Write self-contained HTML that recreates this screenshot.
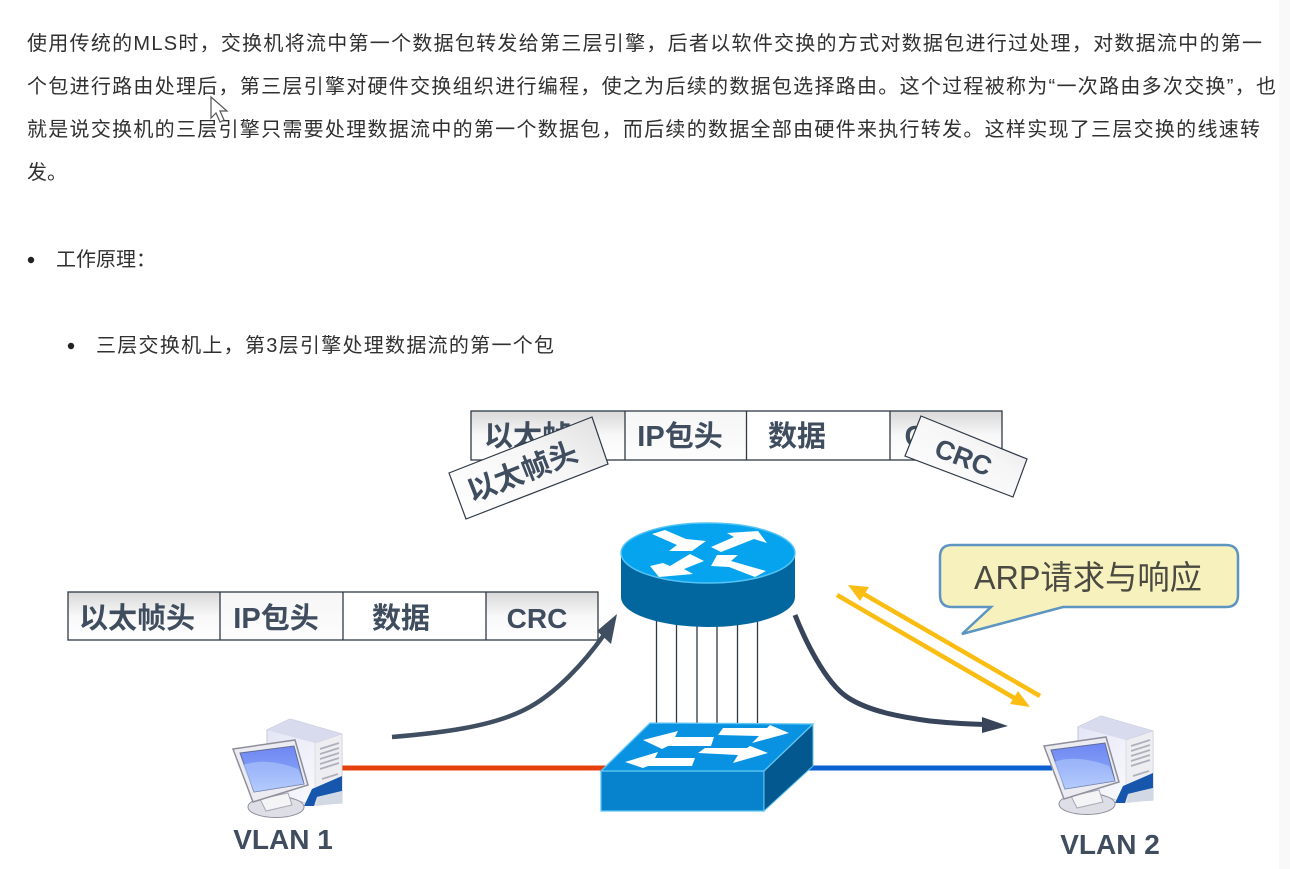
<!DOCTYPE html>
<html><head><meta charset="utf-8">
<style>
html,body{margin:0;padding:0;background:#fff;width:1290px;height:869px;overflow:hidden}
svg{display:block;filter:blur(.35px)}
.t{font-family:"Liberation Sans","Noto Sans CJK SC",sans-serif;font-size:20px;fill:#303030}
.b{font-family:"Liberation Sans","Noto Sans CJK SC",sans-serif;font-size:29px;font-weight:bold;fill:#3f4d5f;text-anchor:middle}
</style></head><body>
<svg width="1290" height="869" viewBox="0 0 1290 869" xmlns="http://www.w3.org/2000/svg">
<defs>
<linearGradient id="cell" x1="0" y1="0" x2="0" y2="1"><stop offset="0" stop-color="#d8d8d8"/><stop offset=".5" stop-color="#f8f8f8"/><stop offset="1" stop-color="#ffffff"/></linearGradient>
<linearGradient id="cell2" x1="0" y1="0" x2="0" y2="1"><stop offset="0" stop-color="#f6f6f6"/><stop offset="1" stop-color="#fdfdfd"/></linearGradient>
<linearGradient id="rot" x1="0" y1="1" x2="1" y2="0"><stop offset="0" stop-color="#ffffff"/><stop offset=".6" stop-color="#f6f6f6"/><stop offset="1" stop-color="#dedede"/></linearGradient>
<linearGradient id="scr" x1="0" y1="0" x2="0" y2="1"><stop offset="0" stop-color="#6f86f2"/><stop offset=".5" stop-color="#7f9cf6"/><stop offset="1" stop-color="#cfe2ff"/></linearGradient>
<linearGradient id="tower" x1="0" y1="0" x2="1" y2="1"><stop offset="0" stop-color="#e2e4f5"/><stop offset="1" stop-color="#ffffff"/></linearGradient>
<g id="pc">
<polygon points="31,11 54,0 106,15 106,84 74,86 31,70" fill="url(#tower)" stroke="#c4c7d6"/>
<polygon points="31,11 54,0 106,15 79,24" fill="#d8daee"/>
<polygon points="79,24 106,15 106,84 79,86" fill="#eeeef2" stroke="#cfd0da" stroke-width=".6"/>
<path d="M84 30l19-6M84 35l19-6M84 40l19-6M84 45l19-6M84 50l19-6M86 60l16-5" stroke="#aeb1bc" stroke-width="1.800"/>
<polygon points="68,87 76,70 106,57 106,72 81,78 78,87" fill="#1657ad"/>
<polygon points="81,78 106,72 106,84 80,87" fill="#d3d9e4"/>
<ellipse cx="40" cy="88" rx="28" ry="10.500" fill="#dedee6" stroke="#8f8f9c"/>
<polygon points="24,80 52,74 56,86 30,92" fill="#f4f4f6" stroke="#a9a9b5"/>
<polygon points="-3,30 59,21 72,66 17,83" fill="#ebebf1" stroke="#8f8f9c" stroke-width="1.500"/>
<polygon points="4,34 58,27 68,65 18,73" fill="url(#scr)" stroke="#5f6c96"/>
<path d="M7 46Q30 38 62 50L68 65L18 73Z" fill="#a9c2fb" opacity=".7"/>
</g>
</defs>
<rect width="1290" height="869" fill="#ffffff"/>
<rect x="1279" y="0" width="11" height="869" fill="#f9f9f9"/>

<text class="t" x="27" y="50" textLength="1235" lengthAdjust="spacing">使用传统的MLS时，交换机将流中第一个数据包转发给第三层引擎，后者以软件交换的方式对数据包进行过处理，对数据流中的第一</text>
<text class="t" x="27" y="93" textLength="1249" lengthAdjust="spacing">个包进行路由处理后，第三层引擎对硬件交换组织进行编程，使之为后续的数据包选择路由。这个过程被称为“一次路由多次交换”，也</text>
<text class="t" x="27" y="136" textLength="1233" lengthAdjust="spacing">就是说交换机的三层引擎只需要处理数据流中的第一个数据包，而后续的数据全部由硬件来执行转发。这样实现了三层交换的线速转</text>
<text class="t" x="27" y="179">发。</text>
<circle cx="31" cy="260" r="3.2" fill="#222"/>
<text class="t" x="56" y="266">工作原理：</text>
<circle cx="71" cy="346" r="3.2" fill="#222"/>
<text class="t" x="96" y="352" textLength="458" lengthAdjust="spacing">三层交换机上，第3层引擎处理数据流的第一个包</text>

<polygon points="211,97 211,118 216,113 220,122 224,120 220,111 227,111" fill="#fff" stroke="#555" stroke-width="1.2"/>

<!-- top frame -->
<rect x="471" y="411" width="154" height="49" fill="url(#cell)"/>
<rect x="625" y="411" width="121" height="49" fill="url(#cell2)"/>
<rect x="746" y="411" width="144" height="49" fill="#fff"/>
<rect x="890" y="411" width="112" height="49" fill="url(#cell)"/>
<rect x="471" y="411" width="531" height="49" fill="none" stroke="#2f3a46" stroke-width="1.3"/>
<path d="M625 411V460M746.500 411V460M890 411V460" stroke="#2f3a46" stroke-width="1.3"/>
<text class="b" x="542" y="446">以太帧头</text>
<text class="b" x="680" y="446">IP包头</text>
<text class="b" x="797" y="446">数据</text>
<text class="b" x="915" y="446">C</text>

<polygon points="449,473 592,417 608,464 466,519" fill="url(#rot)" stroke="#2f3a46" stroke-width="1.2"/>
<text class="b" transform="translate(526,481) rotate(-21.500)">以太帧头</text>
<polygon points="921,416 1027,459 1013,497 905,456" fill="url(#rot)" stroke="#2f3a46" stroke-width="1.2"/>
<text class="b" transform="translate(960,466) rotate(21)" style="font-size:27px">CRC</text>

<!-- lower frame -->
<rect x="68" y="592" width="152" height="48" fill="url(#cell)"/>
<rect x="220" y="592" width="123" height="48" fill="url(#cell2)"/>
<rect x="343" y="592" width="143" height="48" fill="#fff"/>
<rect x="486" y="592" width="112" height="48" fill="url(#cell)"/>
<rect x="68" y="592" width="530" height="48" fill="none" stroke="#2f3a46" stroke-width="1.3"/>
<path d="M220 592V640M343 592V640M486 592V640" stroke="#2f3a46" stroke-width="1.3"/>
<text class="b" x="137" y="628">以太帧头</text>
<text class="b" x="276" y="628">IP包头</text>
<text class="b" x="401" y="628">数据</text>
<text class="b" x="537" y="628" style="font-size:28px">CRC</text>

<!-- connection lines -->
<path d="M656.500 618V723M676.500 622V723M697 624V723M717 624V723M737.500 622V723M757.500 618V723" stroke="#2f3a44" stroke-width="1.300"/>
<line x1="342" y1="768" x2="606" y2="768" stroke="#e5400c" stroke-width="5"/>
<line x1="806" y1="768" x2="1052" y2="768" stroke="#0b5fd0" stroke-width="5"/>

<!-- router -->
<path d="M621 553V597C621 614 660 627 708 627C756 627 795 614 795 597V553Z" fill="#03679f"/>
<ellipse cx="708" cy="553" rx="87" ry="30" fill="#06a4ee" stroke="#53c3f5" stroke-width="1.500"/>
<polygon points="652,534 665,530 686,539 706,541 692,551 669,551 677,545" fill="#fff"/>
<polygon points="711,547 734,537 727,533 758,531 767,543 754,539 721,552" fill="#fff"/>
<polygon points="690,554 704,561 684,569 693,574 659,577 650,566 663,563 670,566" fill="#fff"/>
<polygon points="717,555 738,555 731,561 766,571 755,577 729,567 711,566" fill="#fff"/>

<!-- switch -->
<polygon points="601,771 764,771 764,811 601,811" fill="#0683cc" stroke="#60c6f2" stroke-width="1.300"/>
<polygon points="764,771 813,724 813,766 764,811" fill="#03598f" stroke="#60c6f2" stroke-width="1"/>
<polygon points="650,723 813,724 764,771 601,771" fill="#0a92e2" stroke="#60c6f2" stroke-width="1.300"/>
<polygon points="643,740 678,731 675,737 714,737 711,746 668,746 662,749" fill="#fff"/>
<polygon points="625,762 658,752 655,758 695,758 692,766 648,766 643,768" fill="#fff"/>
<polygon points="718,735 723,728 767,728 770,725 789,733 752,743 759,736" fill="#fff"/>
<polygon points="698,753 705,748 747,748 750,746 768,753 733,763 738,755" fill="#fff"/>

<!-- curved arrows -->
<path d="M392 737C440 733 490 727 524 710C555 695 585 662 606 632" fill="none" stroke="#3f4e60" stroke-width="4.500"/>
<polygon points="617,614 611,644 597,631" fill="#3f4e60"/>
<path d="M795 615C805 640 825 682 847 697C868 711 900 717 930 721C950 723 965 724 985 724.500" fill="none" stroke="#37445a" stroke-width="5"/>
<polygon points="1008,726 982,717 982,733" fill="#37445a"/>

<!-- yellow arrows -->
<line x1="1040" y1="696" x2="862" y2="593" stroke="#fbbd12" stroke-width="4.500"/>
<polygon points="848,585 869,587 860,601" fill="#fbbd12"/>
<line x1="837" y1="595" x2="1016" y2="699" stroke="#fbbd12" stroke-width="4.500"/>
<polygon points="1030,707 1010,704 1018,691" fill="#fbbd12"/>

<!-- callout -->
<path d="M952 545H1226Q1238 545 1238 557V595Q1238 607 1226 607H1063L962 634L991 607H952Q940 607 940 595V557Q940 545 952 545Z" fill="#f7f2bd" stroke="#5c94c2" stroke-width="2.500"/>
<text x="1088" y="589" text-anchor="middle" textLength="228" lengthAdjust="spacingAndGlyphs" style="font-family:'Liberation Sans','Noto Sans CJK SC',sans-serif;font-size:33px;fill:#4b4a42">ARP请求与响应</text>

<!-- PCs -->
<use href="#pc" transform="translate(236,719)"/>
<use href="#pc" transform="translate(1047,716)"/>
<text class="b" x="283" y="849" style="font-size:28px">VLAN 1</text>
<text class="b" x="1110" y="854" style="font-size:28px">VLAN 2</text>
</svg>
</body></html>
